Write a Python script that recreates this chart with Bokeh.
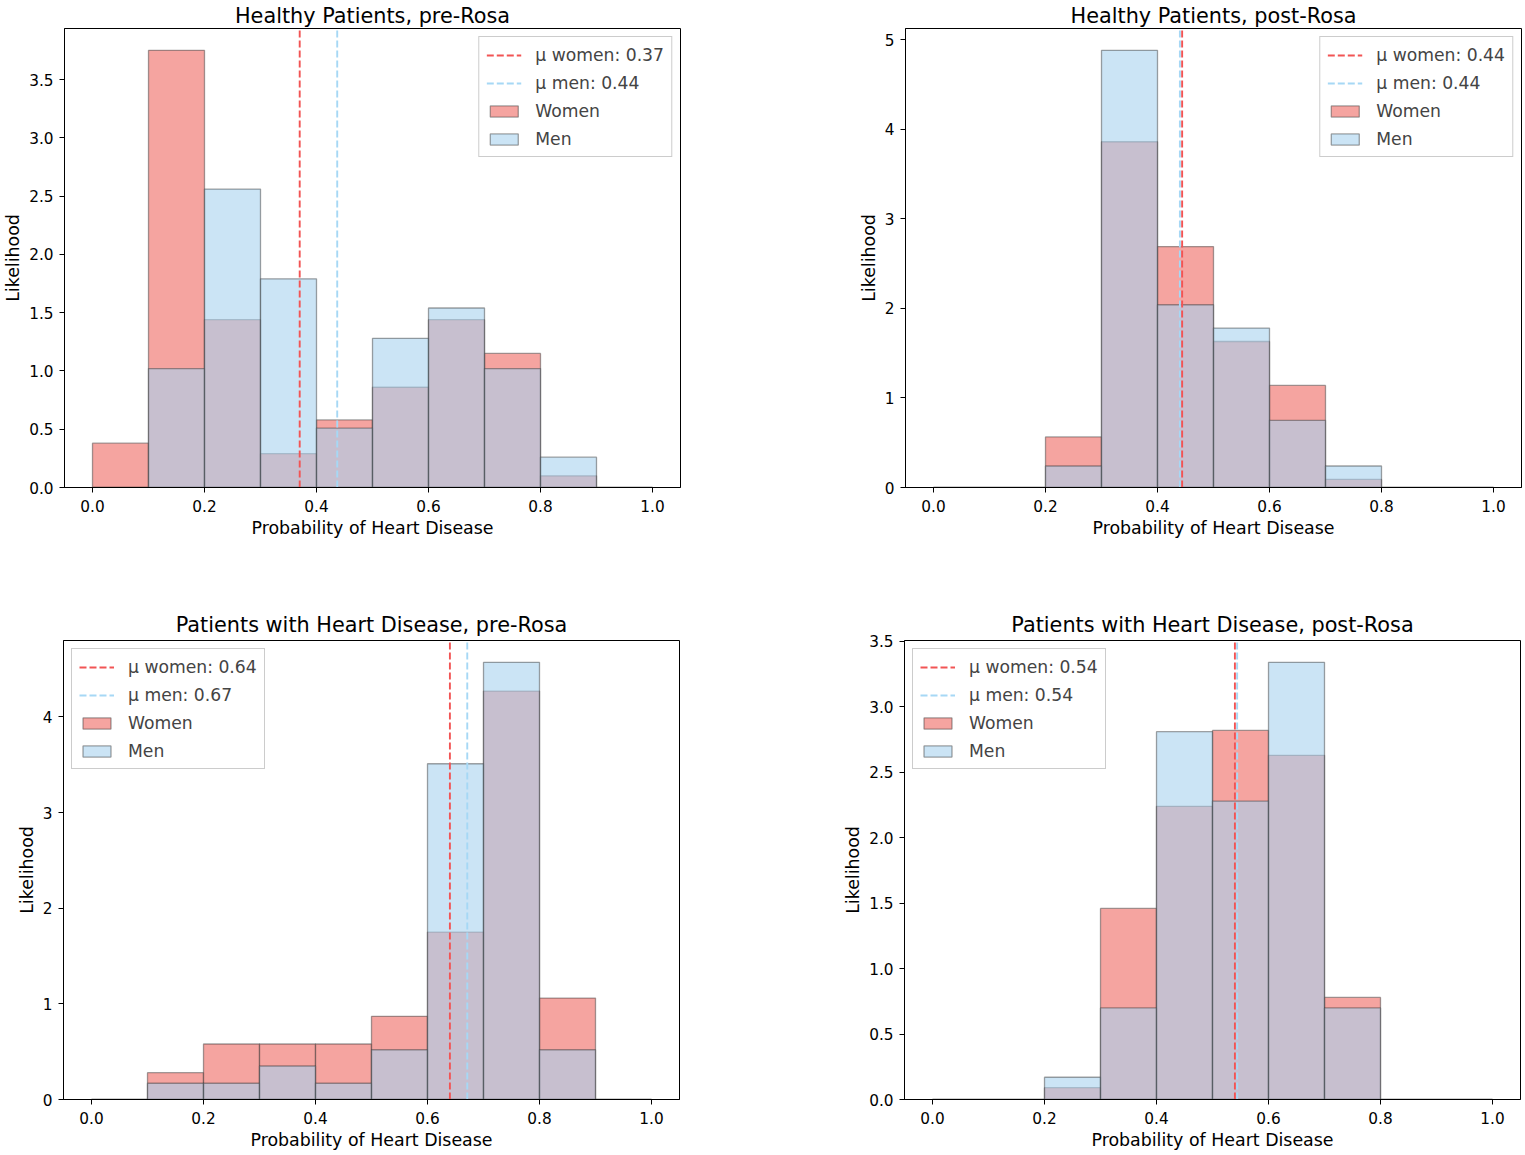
from bokeh.plotting import figure
from bokeh.models import Range1d, FixedTicker, PrintfTickFormatter, Legend, LegendItem
from bokeh.layouts import column, row
from bokeh.embed import file_html
from bokeh.resources import INLINE

# ---------------- data ----------------
bin_edges = [0.0, 0.1, 0.2, 0.3, 0.4, 0.5, 0.6, 0.7, 0.8, 0.9, 1.0]

hp_pre_women = [0.38, 3.75, 1.44, 0.29, 0.58, 0.86, 1.44, 1.15, 0.10, 0.0]
hp_pre_men = [0.0, 1.02, 2.56, 1.79, 0.51, 1.28, 1.54, 1.02, 0.26, 0.0]
hp_pre_mu = [0.370, 0.437]

hp_post_women = [0.0, 0.0, 0.565, 3.86, 2.69, 1.63, 1.14, 0.09, 0.0, 0.0]
hp_post_men = [0.0, 0.0, 0.24, 4.88, 2.04, 1.78, 0.75, 0.24, 0.0, 0.0]
hp_post_mu = [0.444, 0.440]

hd_pre_women = [0.0, 0.28, 0.58, 0.58, 0.58, 0.87, 1.75, 4.27, 1.06, 0.0]
hd_pre_men = [0.0, 0.17, 0.17, 0.35, 0.17, 0.52, 3.51, 4.57, 0.52, 0.0]
hd_pre_mu = [0.640, 0.671]

hd_post_women = [0.0, 0.0, 0.09, 1.46, 2.24, 2.82, 2.63, 0.78, 0.0, 0.0]
hd_post_men = [0.0, 0.0, 0.17, 0.70, 2.81, 2.28, 3.34, 0.70, 0.0, 0.0]
hd_post_mu = [0.540, 0.544]

titles = ["Healthy Patients, pre-Rosa", "Healthy Patients, post-Rosa",
          "Patients with Heart Disease, pre-Rosa", "Patients with Heart Disease, post-Rosa"]
x_ticks = [0.0, 0.2, 0.4, 0.6, 0.8, 1.0]
y_ticks_hp_pre = [0.0, 0.5, 1.0, 1.5, 2.0, 2.5, 3.0, 3.5]
y_ticks_hp_post = [0, 1, 2, 3, 4, 5]
y_ticks_hd_pre = [0, 1, 2, 3, 4]
y_ticks_hd_post = [0.0, 0.5, 1.0, 1.5, 2.0, 2.5, 3.0, 3.5]

# ---------------- style ----------------
FONT = "DejaVu Sans"
TITLE_SIZE = "20.8px"
LABEL_SIZE = "17.4px"
TICK_SIZE = "15.3px"
LEGEND_SIZE = "17.2px"
WOMEN_FILL = "#f17e77"
MEN_FILL = "#a8d2ee"
WOMEN_LINE = "#f25454"
MEN_LINE = "#a6d8f5"


def make_panel(title, women, men, mu, yticks, yfmt, legend_loc,
               frame_w, frame_h, bl, br, bt, bb, title_standoff):
    ymax = max(max(women), max(men)) * 1.05
    p = figure(frame_width=frame_w, frame_height=frame_h,
               x_range=Range1d(-0.05, 1.05), y_range=Range1d(0, ymax),
               output_backend="svg", toolbar_location=None, title=title,
               min_border_left=bl, min_border_right=br,
               min_border_top=bt, min_border_bottom=bb)
    p.title.text_font = FONT
    p.title.text_font_size = TITLE_SIZE
    p.title.text_font_style = "normal"
    p.title.align = "center"
    p.title.text_color = "black"
    p.title.standoff = title_standoff
    p.title.offset = 0

    lefts = bin_edges[:-1]
    rights = bin_edges[1:]
    rw = p.quad(left=lefts, right=rights, bottom=0, top=women,
                fill_color=WOMEN_FILL, fill_alpha=0.7,
                line_color="#333333", line_alpha=0.45, line_width=1.3)
    rm = p.quad(left=lefts, right=rights, bottom=0, top=men,
                fill_color=MEN_FILL, fill_alpha=0.6,
                line_color="#333333", line_alpha=0.45, line_width=1.3)
    lw = p.segment(x0=[mu[0]], y0=[0], x1=[mu[0]], y1=[ymax],
                   line_color=WOMEN_LINE, line_width=1.9, line_dash="7 3")
    lm = p.segment(x0=[mu[1]], y0=[0], x1=[mu[1]], y1=[ymax],
                   line_color=MEN_LINE, line_width=1.9, line_dash="7 3")

    items = [LegendItem(label="μ women: %.2f" % mu[0], renderers=[lw]),
             LegendItem(label="μ men: %.2f" % mu[1], renderers=[lm]),
             LegendItem(label="Women", renderers=[rw]),
             LegendItem(label="Men", renderers=[rm])]
    legend = Legend(items=items, location=legend_loc)
    legend.label_text_font = FONT
    legend.label_text_font_size = LEGEND_SIZE
    legend.glyph_width = 35
    legend.glyph_height = 14
    legend.label_standoff = 14
    legend.label_height = 21
    legend.padding = 7
    legend.spacing = 7
    legend.margin = 8
    legend.border_line_color = "#cccccc"
    legend.border_line_alpha = 1
    legend.background_fill_alpha = 0.8
    p.add_layout(legend)

    p.grid.visible = False
    p.outline_line_color = "black"
    p.outline_line_width = 1
    p.outline_line_alpha = 1

    p.xaxis.ticker = FixedTicker(ticks=x_ticks)
    p.xaxis.formatter = PrintfTickFormatter(format="%.1f")
    p.yaxis.ticker = FixedTicker(ticks=yticks)
    p.yaxis.formatter = PrintfTickFormatter(format=yfmt)
    p.xaxis.axis_label = "Probability of Heart Disease"
    p.yaxis.axis_label = "Likelihood"
    for ax in (p.xaxis[0], p.yaxis[0]):
        ax.axis_label_text_font = FONT
        ax.axis_label_text_font_size = LABEL_SIZE
        ax.axis_label_text_font_style = "normal"
        ax.axis_label_text_color = "black"
        ax.major_label_text_font = FONT
        ax.major_label_text_font_size = TICK_SIZE
        ax.major_label_text_color = "black"
        ax.axis_line_color = "black"
        ax.major_tick_line_color = "black"
        ax.major_tick_out = 5
        ax.major_tick_in = 0
        ax.minor_tick_line_color = None
    p.xaxis.major_label_standoff = 7
    p.xaxis.axis_label_standoff = 3
    p.yaxis.major_label_standoff = 6
    p.yaxis.axis_label_standoff = 3
    return p


p1 = make_panel(titles[0], hp_pre_women, hp_pre_men, hp_pre_mu, y_ticks_hp_pre, "%.1f",
                "top_right", 616, 459, 63, 119, 20, 111, 2)
p2 = make_panel(titles[1], hp_post_women, hp_post_men, hp_post_mu, y_ticks_hp_post, "%d",
                "top_right", 616, 459, 106, 2, 20, 111, 2)
p3 = make_panel(titles[2], hd_pre_women, hd_pre_men, hd_pre_mu, y_ticks_hd_pre, "%d",
                "top_left", 616, 459, 63, 119, 42, 44, 7)
p4 = make_panel(titles[3], hd_post_women, hd_post_men, hd_post_mu, y_ticks_hd_post, "%.1f",
                "top_left", 616, 459, 106, 2, 42, 44, 7)

layout = column(row(p1, p2), row(p3, p4))
open("out.html", "w").write(file_html(layout, INLINE))
